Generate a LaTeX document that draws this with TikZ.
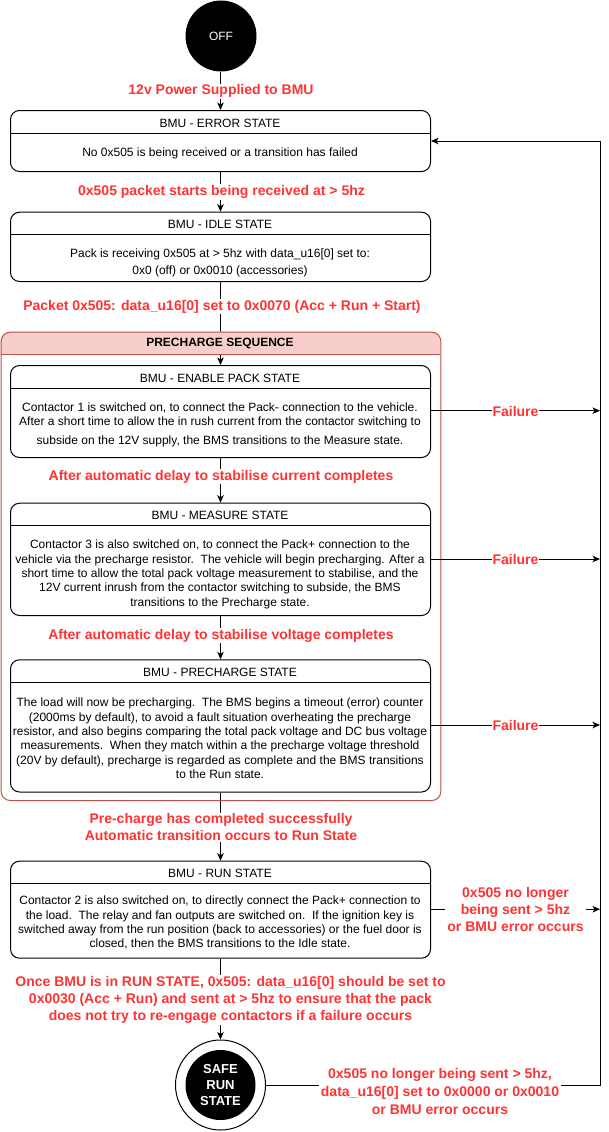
\documentclass[tikz,border=0pt]{standalone}
\usepackage{fontspec}
\setmainfont{Liberation Sans}
\usetikzlibrary{arrows.meta,shapes.geometric}
\definecolor{lblred}{HTML}{FF3333}
\definecolor{pinkfill}{HTML}{F8CECC}
\definecolor{pinkdraw}{HTML}{B85450}
\begin{document}
\begin{tikzpicture}[x=1pt,y=-1pt,line width=1pt,
  statebox/.style={draw=black,rounded corners=9pt,minimum width=420pt,anchor=north west,inner sep=0pt},
  hdr/.style={font=\fontsize{12}{14.3}\selectfont,inner sep=0pt},
  body/.style={font=\fontsize{12}{14.3}\selectfont,align=center,inner sep=0pt},
  lbl/.style={font=\fontsize{14}{17}\selectfont\bfseries,text=lblred,fill=white,align=center,inner sep=1pt},
  arr/.style={-{Stealth[length=7.5pt,width=6.5pt,inset=2pt]}},
]
\useasboundingbox (0,0) rectangle (609,1132);

% start / end nodes
\node[circle,fill=black,minimum size=71pt,inner sep=0pt,text=white,font=\fontsize{12}{14}\selectfont] (off) at (221,36) {OFF};

% state boxes
\node[statebox,minimum height=61pt] (err) at (10,110) {};
\node[statebox,minimum height=69.3pt] (idle) at (10,211.7) {};
\node[statebox,minimum height=92pt] (enable) at (10,365) {};
\node[statebox,minimum height=112.3pt] (measure) at (10,502.7) {};
\node[statebox,minimum height=132.2pt] (prech) at (10,659.3) {};
\node[statebox,minimum height=97pt] (run) at (10,860.7) {};

\node[circle,draw=black,minimum size=90pt,inner sep=0pt] (safe) at (220.5,1085) {};
\node[circle,fill=black,minimum size=70pt,inner sep=0pt,text=white,align=center,font=\fontsize{13}{16.3}\selectfont\bfseries] (safein) at (220.5,1085) {SAFE\\RUN\\STATE};

% header dividers
\draw (10,133.3) -- (430,133.3);
\draw (10,234.5) -- (430,234.5);
\draw (10,388.3) -- (430,388.3);
\draw (10,525.7) -- (430,525.7);
\draw (10,682.7) -- (430,682.7);
\draw (10,883.3) -- (430,883.3);

% header texts
\node[hdr] (errh) at (220,123.3) {BMU - ERROR STATE};
\node[hdr] (idleh) at (220,224.3) {BMU - IDLE STATE};
\node[hdr] (enableh) at (220,378.5) {BMU - ENABLE PACK STATE};
\node[hdr] (measureh) at (220,515.5) {BMU - MEASURE STATE};
\node[hdr] (prechh) at (220,672.5) {BMU - PRECHARGE STATE};
\node[hdr] (runh) at (220,873.5) {BMU - RUN STATE};

% body texts
\node[body] (errb) at (220,153.5) {No 0x505 is being received or a transition has failed};
\node[body] (idleb) at (220,262.8) {Pack is receiving 0x505 at > 5hz with data\_u16[0] set to:\\[3.1pt]0x0 (off) or 0x0010 (accessories)};
\node[body] (enableb) at (220,424.8) {Contactor 1 is switched on, to connect the Pack- connection to the vehicle.\\After a short time to allow the in rush current from the contactor switching to\\[4.3pt]subside on the 12V supply, the BMS transitions to the Measure state.};
\node[body] (measureb) at (220,574.3) {Contactor 3 is also switched on, to connect the Pack+ connection to the\\vehicle via the precharge resistor.\ \ The vehicle will begin precharging. After a\\short time to allow the total pack voltage measurement to stabilise, and the\\12V current inrush from the contactor switching to subside, the BMS\\transitions to the Precharge state.};
\node[body] (prechb) at (220,738.3) {The load will now be precharging.\ \ The BMS begins a timeout (error) counter\\(2000ms by default), to avoid a fault situation overheating the precharge\\resistor, and also begins comparing the total pack voltage and DC bus voltage\\measurements.\ \ When they match within a the precharge voltage threshold\\(20V by default), precharge is regarded as complete and the BMS transitions\\to the Run state.};
\node[body] (runb) at (220,922.8) {Contactor 2 is also switched on, to directly connect the Pack+ connection to\\the load.\ \ The relay and fan outputs are switched on.\ \ If the ignition key is\\switched away from the run position (back to accessories) or the fuel door is\\closed, then the BMS transitions to the Idle state.};

% vertical transitions
\draw[arr] (off.south -| err.north) -- (err.north);
\draw[arr] (err.south) -- (idle.north);
\draw[arr] (idle.south) -- (enable.north);
\draw[arr] (enable.south) -- (measure.north);
\draw[arr] (measure.south) -- (prech.north);
\draw[arr] (prech.south) -- (run.north);
\draw[arr] (run.south) -- (safe.north);

% precharge sequence container
\begin{scope}
\clip (0,331.7) rectangle (441,354.3);
\fill[pinkfill,rounded corners=9pt] (0.7,331.7) rectangle (440.3,800);
\end{scope}
\node[draw=pinkdraw,rounded corners=9pt,minimum width=439.6pt,minimum height=468.3pt,anchor=north west,inner sep=0pt] (cont) at (0.7,331.7) {};
\draw[pinkdraw] (0.7,354.3) -- (440.3,354.3);
\node[font=\fontsize{12}{14.3}\selectfont\bfseries,inner sep=0pt] (conth) at (220,343.2) {PRECHARGE SEQUENCE};

% right side transitions
\coordinate (f1) at (600,410.7);
\coordinate (f2) at (600,559);
\coordinate (f3) at (600,725);
\coordinate (f4) at (600,909.2);
\coordinate (lb) at (600,1085);
\coordinate (lt) at (600,141);
\draw[arr] (enable.east |- f1) -- (f1);
\draw[arr] (measure.east |- f2) -- (f2);
\draw[arr] (prech.east |- f3) -- (f3);
\draw[arr] (run.east |- f4) -- (f4);
\draw[arr] (safe.east) -- (lb) -- (lt) -- (err.east |- lt);

% labels
\node[lbl] (l1) at (221,91.2) {12v Power Supplied to BMU};
\node[lbl] (l2) at (221.5,192) {0x505 packet starts being received at > 5hz};
\node[lbl] (l3) at (222,306.5) {Packet 0x505: data\_u16[0] set to 0x0070 (Acc + Run + Start)};
\node[lbl] (l4) at (221,476.5) {After automatic delay to stabilise current completes};
\node[lbl] (l5) at (221,635.5) {After automatic delay to stabilise voltage completes};
\node[lbl] (l6) at (221,827.2) {Pre-charge has completed successfully\\Automatic transition occurs to Run State};
\node[lbl] (l7) at (230.5,1000) {Once BMU is in RUN STATE, 0x505: data\_u16[0] should be set to\\0x0030 (Acc + Run) and sent at > 5hz to ensure that the pack\\does not try to re-engage contactors if a failure occurs};
\node[lbl,inner sep=0.5pt] (fl1) at (515.5,411.2) {Failure};
\node[lbl,inner sep=0.5pt] (fl2) at (515.5,559.5) {Failure};
\node[lbl,inner sep=0.5pt] (fl3) at (515.5,725.5) {Failure};
\node[lbl,inner sep=2pt] (lr) at (515.5,909.8) {0x505 no longer\\being sent > 5hz\\or BMU error occurs};
\node[lbl,inner sep=2pt,font=\fontsize{14}{18}\selectfont\bfseries] (ls) at (440,1091.5) {0x505 no longer being sent > 5hz,\\data\_u16[0] set to 0x0000 or 0x0010\\or BMU error occurs};
\end{tikzpicture}
\end{document}
